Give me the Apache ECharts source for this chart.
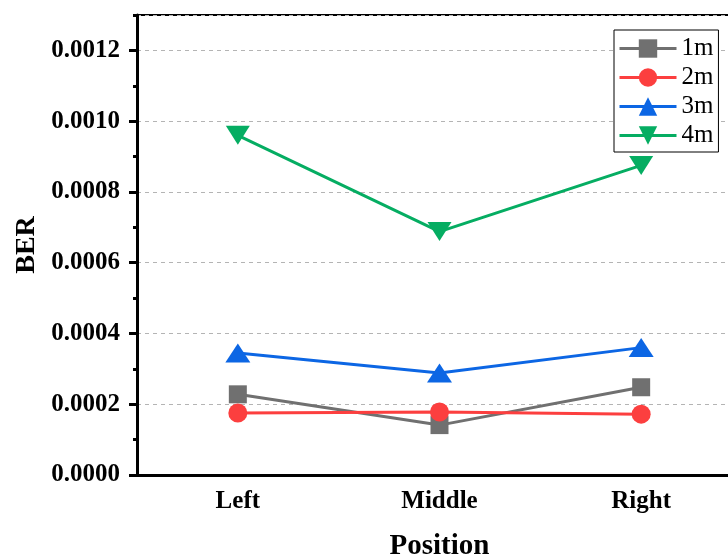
<!DOCTYPE html>
<html>
<head>
<meta charset="utf-8">
<script src="https://cdn.jsdelivr.net/npm/echarts@6/dist/echarts.min.js"></script>
<style>
  html, body { margin: 0; padding: 0; background: #fff; }
  #chart { width: 728px; height: 555px; }
</style>
</head>
<body>
<div id="chart"></div>
<script>
// Bit error rate measured at three receiver positions for four distances
const positions = ['Left', 'Middle', 'Right'];
const ber1m = [0.000228, 0.000141, 0.000248];
const ber2m = [0.000175, 0.000178, 0.000172];
const ber3m = [0.000345, 0.000288, 0.000360];
const ber4m = [0.000960, 0.000688, 0.000875];
const seriesNames = ['1m', '2m', '3m', '4m'];

const FONT = 'Liberation Serif';
const chart = echarts.init(document.getElementById('chart'));

function lineSeries(name, data, color, symbol, size, rotate) {
  return {
    name: name,
    type: 'line',
    data: data,
    xAxisIndex: 0,
    yAxisIndex: 0,
    symbol: symbol,
    symbolSize: size,
    symbolRotate: rotate || 0,
    showAllSymbol: true,
    lineStyle: { color: color, width: 3 },
    itemStyle: { color: color },
    emphasis: { disabled: true },
    z: 3
  };
}

chart.setOption({
  animation: false,
  grid: {
    left: 137, top: 15, right: -14, bottom: 80,
    outerBoundsMode: 'none',
    show: true, borderColor: '#000', borderWidth: 2
  },
  legend: {
    data: seriesNames,
    orient: 'vertical',
    left: 614, top: 30,
    borderColor: '#000', borderWidth: 1,
    padding: [6, 5, 4, 4],
    itemWidth: 57, itemHeight: 23, itemGap: 4,
    lineStyle: { width: 3 },
    textStyle: { fontFamily: FONT, fontSize: 25, color: '#000', lineHeight: 23 },
    backgroundColor: '#fff'
  },
  xAxis: [{
    type: 'category',
    data: positions,
    boundaryGap: true,
    name: 'Position',
    nameLocation: 'middle',
    nameGap: 57,
    nameTextStyle: { fontFamily: FONT, fontSize: 29, fontWeight: 'bold', color: '#000' },
    axisLine: { lineStyle: { color: '#000', width: 3 } },
    axisTick: { alignWithLabel: true, length: 8, lineStyle: { width: 3, color: '#000' } },
    axisLabel: { fontFamily: FONT, fontSize: 25, fontWeight: 'bold', color: '#000', margin: 14 },
    splitLine: { show: false }
  }, {
    // short ticks on the band boundaries
    type: 'category',
    data: positions,
    position: 'bottom',
    boundaryGap: true,
    axisLine: { show: false },
    axisTick: { length: 4, lineStyle: { width: 3, color: '#000' } },
    axisLabel: { show: false },
    splitLine: { show: false }
  }],
  yAxis: [{
    type: 'value',
    min: 0, max: 0.0013, interval: 0.0002,
    name: 'BER',
    nameLocation: 'middle',
    nameGap: 89,
    nameTextStyle: { fontFamily: FONT, fontSize: 28, fontWeight: 'bold', color: '#000' },
    axisLine: { show: true, lineStyle: { color: '#000', width: 3 } },
    axisTick: { show: true, length: 8, lineStyle: { width: 3, color: '#000' } },
    axisLabel: {
      fontFamily: FONT, fontSize: 25, fontWeight: 'bold', color: '#000', margin: 17,
      showMaxLabel: false,
      formatter: v => v.toFixed(4)
    },
    splitLine: { show: true, lineStyle: { color: '#b4b4b4', width: 1, type: [4, 4] } }
  }, {
    // short ticks at the odd hundred-thousandths
    type: 'value',
    min: 0, max: 0.0013, interval: 0.0001,
    position: 'left',
    axisLine: { show: false },
    axisTick: { show: true, length: 4, lineStyle: { width: 3, color: '#000' } },
    axisLabel: { show: false },
    splitLine: { show: false }
  }],
  series: [
    lineSeries('1m', ber1m, '#707070', 'rect', 18),
    lineSeries('2m', ber2m, '#fc3f3f', 'circle', 19),
    lineSeries('3m', ber3m, '#0c66e4', 'triangle', [25, 19]),
    lineSeries('4m', ber4m, '#05ad62', 'triangle', [24, 19], 180)
  ]
});
</script>
</body>
</html>
